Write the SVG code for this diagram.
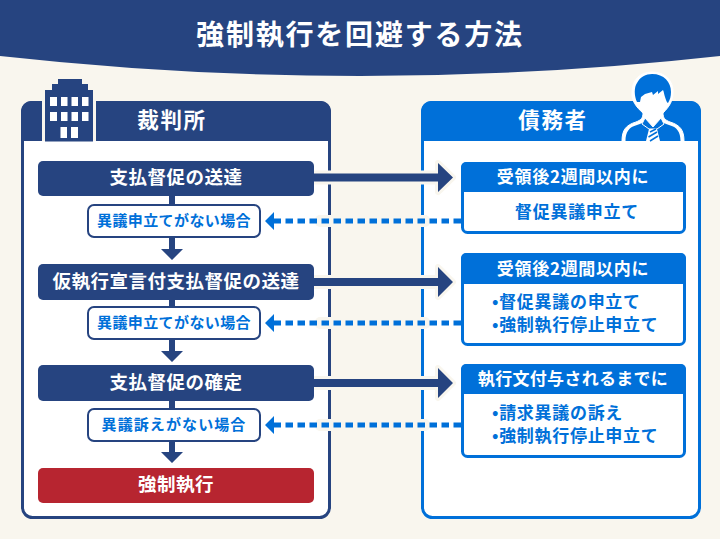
<svg xmlns="http://www.w3.org/2000/svg" width="720" height="539" viewBox="0 0 720 539">
<style>
text{font-family:"Noto Sans CJK JP","Noto Sans",sans-serif;font-weight:700;text-anchor:middle}
.w{fill:#fff}.b{fill:#0070d9}
.l{text-anchor:start}
.step{fill:#264480}
.t18{font-size:18.500px;letter-spacing:.5px}
.t17{font-size:17px;letter-spacing:.7px}
.t15{font-size:15px;letter-spacing:.4px}
.t21{font-size:21.500px;letter-spacing:1.6px}
.small{fill:#fff;stroke:#264480;stroke-width:2}
.rb{fill:#fff;stroke:#0070d9;stroke-width:3}
.halo{fill:#f9f6ee;stroke:#f9f6ee;stroke-width:6;stroke-linejoin:round}
.dash{stroke:#0070d9;stroke-width:5;stroke-dasharray:7.5 4.500;fill:none}
.shaft{stroke:#264480;stroke-width:8;fill:none}
.vs{stroke:#264480;stroke-width:6;fill:none}
</style>
<rect width="720" height="539" fill="#f9f6ee"/>
<g id="title">
<path d="M0 0H720V56Q360 96 0 56Z" fill="#264480"/>
<text x="360" y="45" class="w" font-size="28" letter-spacing="1.800">強制執行を回避する方法</text>
</g>
<g id="court-panel">
<rect x="22.500" y="102.500" width="307" height="415" rx="10" fill="#fff" stroke="#264480" stroke-width="3"/>
<path d="M21 141V111a10 10 0 0 1 10-10H321a10 10 0 0 1 10 10V141Z" fill="#264480"/>
<rect x="42" y="95" width="54" height="47" fill="#f9f6ee"/>
<rect x="42" y="141" width="54" height="2" fill="#fff"/>
<text x="172" y="128" class="w t21">裁判所</text>
</g>
<g id="building">
<path d="M45 141.500V90H52V84H58V79H82V84H88V90H93V141.500Z" fill="#264480"/>
<path d="M50 97h7v9h-7zM61 97h6.500v9H61zM71.500 97H78v9h-6.500zM82 97h6.500v9H82zM50 112h7v9h-7zM61 112h6.500v9H61zM71.500 112H78v9h-6.500zM82 112h6.500v9H82zM60.500 127H67v11h-6.500zM71 127h7v11h-7z" fill="#fff"/>
</g>
<g id="debtor-panel">
<rect x="422.500" y="102.500" width="277" height="415" rx="10" fill="#fff" stroke="#0070d9" stroke-width="3"/>
<path d="M421 141V111a10 10 0 0 1 10-10H691a10 10 0 0 1 10 10V141Z" fill="#0070d9"/>
<text x="553" y="128" class="w t21">債務者</text>
</g>
<g id="person">
<path d="M622 141C622 130 626 125 636 122C641 120 643 118 643 113C636 107 631 100 632 92C632 80 640 72 652 72C665 72 674 81 673 93C673 101 669 107 663 113C663 118 665 120 670 122C680 125 684 130 684 141Z" fill="#fff" stroke="#fff" stroke-width="1"/>
<path d="M625.500 141C625.500 132 629 127 637 125C641 124 644 122 645 120L653 127L661 120C662 122 665 124 669 125C677 127 680.500 132 680.500 141Z" fill="#0070d9"/>
<path d="M645 118L653 127L661 118L664 124L657 129H649L642 124Z" fill="#0070d9" stroke="#fff" stroke-width="1"/>
<path d="M649 129H657L660 141H646Z" fill="#fff"/>
<path d="M650 132L656 129M648.500 137L657 132M650 141L658 136" stroke="#0070d9" stroke-width="1.500"/>
<path d="M637 102C634 96 634 87 637 83C640 77 646 74 652 74C664 74 671 82 671 92C671 96 670 100 668 103C667 103 666 100 665 97C664 94 664 92 663 90L658 94V91L653 95L652 92L645 94L641 97L640 102Z" fill="#0070d9"/>
</g>
<g id="connectors">
<path class="halo" d="M314 173.500H438V163L453 177.500L438 192V181.500H314Z"/>
<path class="halo" d="M314 278H438V267L453 282L438 297V286H314Z"/>
<path class="halo" d="M314 379H438V368L453 383L438 398V387H314Z"/>
<rect x="315" y="215" width="115" height="12" rx="5" fill="#f9f6ee"/>
<rect x="315" y="317" width="115" height="12" rx="5" fill="#f9f6ee"/>
<rect x="315" y="419" width="115" height="12" rx="5" fill="#f9f6ee"/>
<path class="shaft" d="M314 177.500H440M314 282H440M314 383H440"/>
<path class="step" d="M438 163L453 177.500L438 192ZM438 267L453 282L438 297ZM438 368L453 383L438 398Z"/>
<path class="dash" d="M461 221H274M461 323H274M461 425H274"/>
<path class="b" d="M265 221L274 212V230ZM265 323L274 314V332ZM265 425L274 416V434Z"/>
<path class="vs" d="M172 196V206M172 237V250M172 299V307M172 339V352M172 400V410M172 441V453"/>
<path class="step" d="M161 249H183L172 260ZM161 351H183L172 362ZM161 452H183L172 463Z"/>
</g>
<g id="step1"><rect x="38" y="161" width="276" height="35" rx="5" class="step"/><text x="176" y="184" class="w t18">支払督促の送達</text></g>
<g id="cond1"><rect x="88" y="205" width="172" height="32" rx="6" class="small"/><text x="174" y="226" class="b t15">異議申立てがない場合</text></g>
<g id="step2"><rect x="38" y="264" width="276" height="36" rx="5" class="step"/><text x="176" y="288" class="w t18">仮執行宣言付支払督促の送達</text></g>
<g id="cond2"><rect x="88" y="307" width="172" height="32" rx="6" class="small"/><text x="174" y="328" class="b t15">異議申立てがない場合</text></g>
<g id="step3"><rect x="38" y="365" width="276" height="36" rx="5" class="step"/><text x="176" y="389" class="w t18">支払督促の確定</text></g>
<g id="cond3"><rect x="88" y="409" width="172" height="32" rx="6" class="small"/><text x="174" y="430" class="b t15" letter-spacing="1.100" style="letter-spacing:1.100px">異議訴えがない場合</text></g>
<g id="enforce"><rect x="38" y="468" width="276" height="35" rx="5" fill="#b72530"/><text x="176" y="491" class="w t18">強制執行</text></g>
<g id="resp1">
<rect x="462.500" y="163.500" width="222" height="69" rx="5" class="rb"/>
<path d="M461 192V167a5 5 0 0 1 5-5H681a5 5 0 0 1 5 5V192Z" fill="#0070d9"/>
<text x="573" y="183" class="w t17">受領後2週間以内に</text>
<text x="577" y="218" class="b t17">督促異議申立て</text>
</g>
<g id="resp2">
<rect x="462.500" y="254.500" width="222" height="90" rx="5" class="rb"/>
<path d="M461 284V258a5 5 0 0 1 5-5H681a5 5 0 0 1 5 5V284Z" fill="#0070d9"/>
<text x="573" y="275" class="w t17">受領後2週間以内に</text>
<text x="492" y="308" class="b t17 l">•督促異議の申立て</text>
<text x="492" y="331" class="b t17 l">•強制執行停止申立て</text>
</g>
<g id="resp3">
<rect x="462.500" y="365.500" width="222" height="91" rx="5" class="rb"/>
<path d="M461 394V369a5 5 0 0 1 5-5H681a5 5 0 0 1 5 5V394Z" fill="#0070d9"/>
<text x="573" y="385" class="w t17" style="letter-spacing:.3px">執行文付与されるまでに</text>
<text x="492" y="419" class="b t17 l">•請求異議の訴え</text>
<text x="492" y="442" class="b t17 l">•強制執行停止申立て</text>
</g>
</svg>
